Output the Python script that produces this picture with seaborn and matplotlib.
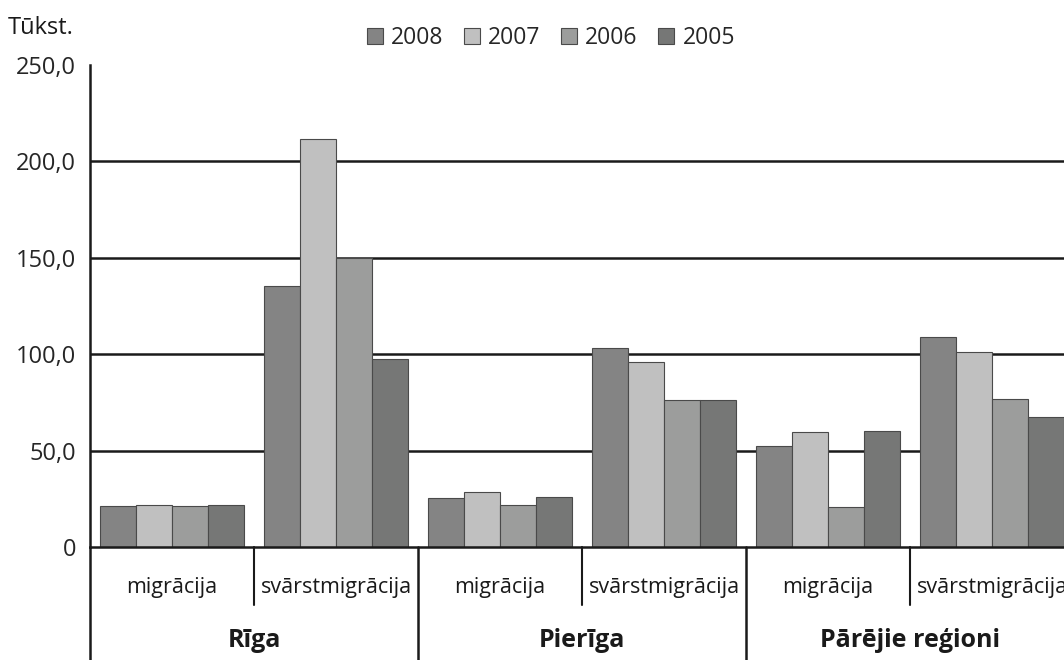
import pandas as pd
import matplotlib
matplotlib.use("Agg")
import matplotlib.pyplot as plt
import seaborn as sns

# Data (thousands)
regions = ["Rīga", "Pierīga", "Pārējie reģioni"]
kinds = ["migrācija", "svārstmigrācija"]
years = ["2008", "2007", "2006", "2005"]

vals_2008 = [21.2, 135.2, 25.2, 103.3, 52.5, 108.7]
vals_2007 = [22.0, 211.8, 28.3, 95.7, 59.4, 101.4]
vals_2006 = [21.2, 149.9, 21.8, 76.0, 20.6, 76.8]
vals_2005 = [22.0, 97.4, 25.9, 76.0, 60.1, 67.2]

y_ticks = [0, 50, 100, 150, 200, 250]
y_labels = ["0", "50,0", "100,0", "150,0", "200,0", "250,0"]

colors = ["#848484", "#c0c0c0", "#9c9d9c", "#767776"]

# long-form table
cats = [f"{r}|{k}" for r in regions for k in kinds]
rows = []
for yr, vals in zip(years, [vals_2008, vals_2007, vals_2006, vals_2005]):
    for c, v in zip(cats, vals):
        rows.append({"cat": c, "year": yr, "value": v})
df = pd.DataFrame(rows)

sns.set_style("white")
plt.rcParams["font.family"] = ["Open Sans", "DejaVu Sans"]

fig = plt.figure(figsize=(10.64, 6.6), dpi=100)
ax = fig.add_axes([90 / 1064, 113 / 660, 984 / 1064, 482 / 660])

sns.barplot(data=df, x="cat", y="value", hue="year", order=cats,
            hue_order=years, palette=colors, width=0.88,
            edgecolor="#4a4a4a", linewidth=0.8, ax=ax)

for t in y_ticks[1:-1]:
    ax.axhline(t, color="#1a1a1a", lw=1.8, zorder=0)

ax.set_ylim(0, 250)
ax.set_xlim(-0.5, 5.5)
ax.set_yticks(y_ticks)
ax.set_yticklabels(y_labels, fontsize=17)
ax.tick_params(axis="y", direction="out", length=6, width=1.5, color="#1a1a1a", pad=4)
ax.set_xticks([])
ax.set_xlabel("")
ax.set_ylabel("")

for s in ["top", "right"]:
    ax.spines[s].set_visible(False)
ax.spines["left"].set_color("#1a1a1a")
ax.spines["left"].set_linewidth(1.8)
ax.spines["bottom"].set_color("#1a1a1a")
ax.spines["bottom"].set_linewidth(1.8)

# category labels under the axis
tr = ax.get_xaxis_transform()
for i, c in enumerate(cats):
    ax.text(i, -0.083, c.split("|")[1], transform=tr, ha="center", va="center",
            fontsize=15.5, color="#1a1a1a")
for j, r in enumerate(regions):
    ax.text(2 * j + 0.5, -0.195, r, transform=tr, ha="center", va="center",
            fontsize=18, fontweight="bold", color="#1a1a1a")

for x in [0.5, 2.5, 4.5]:
    ax.plot([x, x], [0, -0.12], transform=tr, color="#1a1a1a", lw=1.5, clip_on=False)
for x in [-0.5, 1.5, 3.5]:
    ax.plot([x, x], [0, -0.24], transform=tr, color="#1a1a1a", lw=1.8, clip_on=False)

ax.legend(loc="center", bbox_to_anchor=(551 / 1064, 1 - 38 / 660),
          bbox_transform=fig.transFigure, ncol=4, frameon=False, fontsize=16.5,
          handlelength=0.7, handleheight=0.7, handletextpad=0.35, columnspacing=0.9)

fig.text(8 / 1064, 1 - 28 / 660, "Tūkst.", fontsize=17, ha="left", va="center",
         color="#1a1a1a")

fig.savefig("out.png", dpi=100)
